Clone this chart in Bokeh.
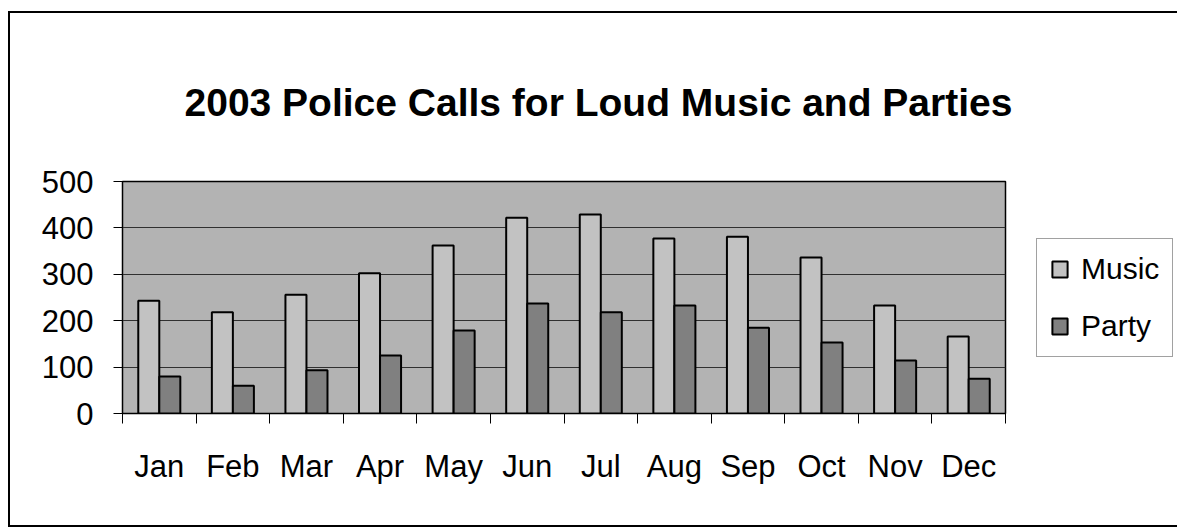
from bokeh.plotting import figure
from bokeh.models import (Range1d, LinearAxis, FixedTicker, Legend, LegendItem,
                          ColumnDataSource, Title)
from bokeh.transform import dodge
from bokeh.embed import file_html
from bokeh.resources import INLINE

# ---- data ----
months = ["Jan", "Feb", "Mar", "Apr", "May", "Jun", "Jul", "Aug", "Sep", "Oct", "Nov", "Dec"]
music = [243, 218, 256, 302, 362, 422, 429, 377, 381, 336, 233, 166]
party = [80, 60, 93, 125, 179, 237, 218, 233, 185, 153, 114, 75]
series_names = ["Music", "Party"]
y_ticks = [0, 100, 200, 300, 400, 500]
title_text = "2003 Police Calls for Loud Music and Parties"

FONT = "Liberation Sans"

idx = list(range(len(months)))
src = ColumnDataSource(dict(i=idx, month=months, music=music, party=party))

p = figure(x_range=Range1d(-0.5, len(months) - 0.5), y_range=Range1d(0, 500),
           title=None,
           frame_width=883, frame_height=232,
           min_border_left=112, min_border_right=167, min_border_top=168, min_border_bottom=112,
           output_backend="svg", toolbar_location=None, x_axis_location=None,
           y_axis_location="left", background_fill_color="#b3b3b3",
           border_fill_color="white", outline_line_color="black", outline_line_width=1.5)

p.styles = {"border": "2px solid black", "margin-top": "11px", "margin-left": "8px"}

# title, lifted away from the plot area by its standoff
title = Title(text=title_text, align="left", offset=62, standoff=116,
              text_font=FONT, text_font_style="bold", text_font_size="39px",
              text_color="black")
p.add_layout(title, "above")

# y axis
yax = p.yaxis[0]
yax.ticker = FixedTicker(ticks=y_ticks)
yax.major_label_text_font = FONT
yax.major_label_text_font_size = "31px"
yax.major_label_text_color = "black"
yax.major_tick_out = 9
yax.major_tick_in = 0
yax.minor_tick_line_color = None
yax.major_label_standoff = 20
yax.axis_line_color = "black"
yax.major_tick_line_color = "black"

p.ygrid.grid_line_color = "#303030"
p.ygrid.grid_line_width = 1
p.xgrid.grid_line_color = None

# x axes: boundary ticks + month labels
tick_axis = LinearAxis(ticker=FixedTicker(ticks=[i - 0.5 for i in range(len(months) + 1)]),
                       major_tick_out=10, major_tick_in=0, minor_tick_line_color=None,
                       major_label_text_font_size="1px", major_label_text_alpha=0,
                       major_label_standoff=0, axis_line_color="black",
                       major_tick_line_color="black")
label_axis = LinearAxis(ticker=FixedTicker(ticks=idx),
                        major_label_overrides={i: m for i, m in zip(idx, months)},
                        major_tick_line_color=None, minor_tick_line_color=None,
                        axis_line_color=None,
                        major_label_standoff=19, major_label_text_font=FONT,
                        major_label_text_font_size="31px",
                        major_label_text_color="black")
p.add_layout(tick_axis, "below")
p.add_layout(label_axis, "below")

# bars
w = 0.2857
r1 = p.vbar(x=dodge("i", -w / 2), top="music", width=w, source=src,
            fill_color="#c2c2c2", line_color="black", line_width=2)
r2 = p.vbar(x=dodge("i", w / 2), top="party", width=w, source=src,
            fill_color="#808080", line_color="black", line_width=2)

legend = Legend(items=[LegendItem(label=series_names[0], renderers=[r1]),
                       LegendItem(label=series_names[1], renderers=[r2])],
                location=(31, 56), margin=0, padding=13, spacing=23,
                glyph_width=19, glyph_height=20, label_standoff=12,
                label_text_font=FONT, label_text_font_size="30px", label_text_color="black",
                border_line_color="#444444", border_line_width=1,
                background_fill_color="white")
p.add_layout(legend, "right")

open("out.html", "w").write(file_html(p, INLINE))
